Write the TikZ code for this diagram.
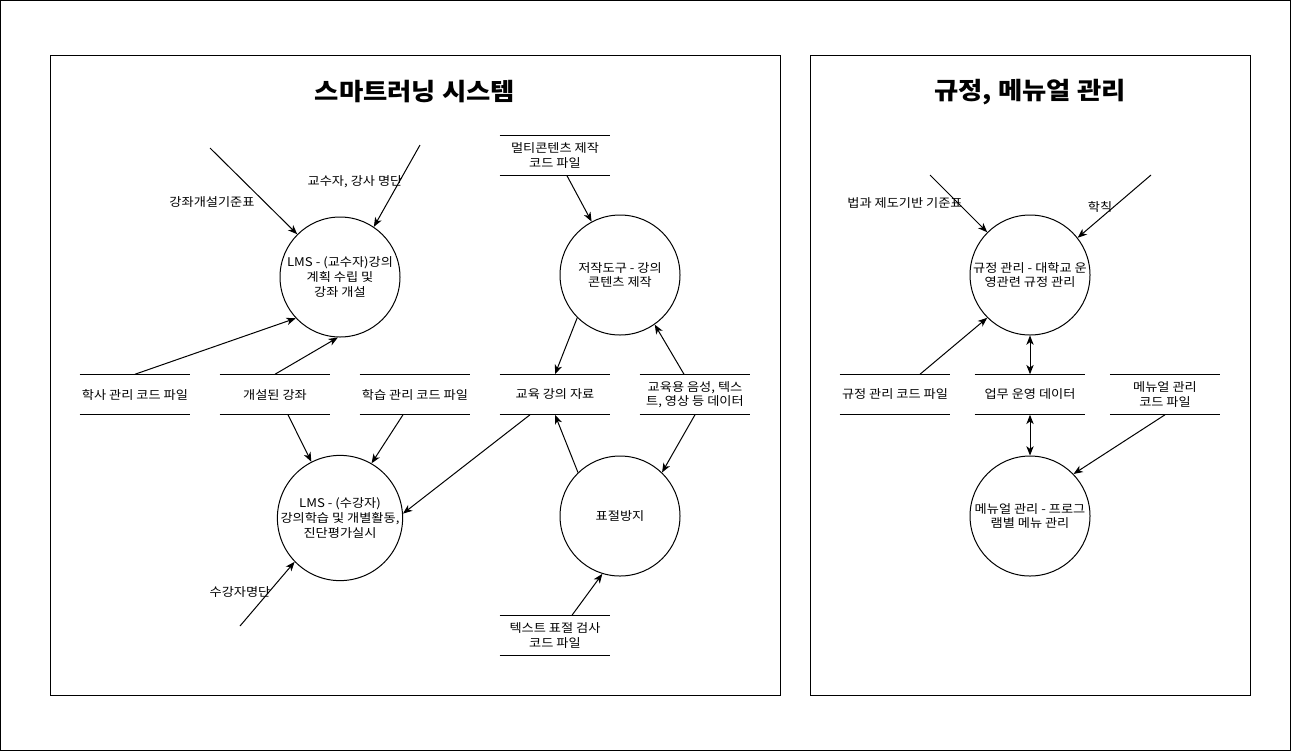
\documentclass[tikz,border=0pt]{standalone}
\usepackage{fontspec}
\setmainfont{Noto Sans CJK KR}[FakeStretch=1.1]
\usetikzlibrary{arrows.meta}
\begin{document}
\begin{tikzpicture}[x=0.75pt,y=-0.75pt,
  every node/.style={font=\fontsize{9}{11}\selectfont, align=center, inner sep=0pt},
  proc/.style={draw, circle, minimum size=90pt, line width=0.75pt},
  store/.style={minimum width=82.5pt, minimum height=30pt},
  lbl/.style={fill=none},
  ttl/.style={font=\fontsize{18}{20}\selectfont\bfseries},
  flow/.style={line width=0.75pt, -{Stealth[length=7pt,width=5.5pt,inset=2pt]}},
  bflow/.style={line width=0.75pt, {Stealth[length=7pt,width=5.5pt,inset=2pt]}-{Stealth[length=7pt,width=5.5pt,inset=2pt]}},
  frame/.style={draw, line width=0.75pt}
]
\useasboundingbox (0,0) rectangle (1291,751);
\draw[frame] (0.5,0.5) rectangle (1290.5,750.5);
\draw[frame] (50.5,55.5) rectangle (780.5,695.5);
\draw[frame] (810.5,55.5) rectangle (1250.5,695.5);

\node[ttl] (t1) at (415,92) {스마트러닝 시스템};
\node[ttl] (t2) at (1030,92) {규정, 메뉴얼 관리};

% processes
\node[proc] (c1) at (340,277) {LMS - (교수자)강의\\계획 수립 및\\강좌 개설};
\node[proc] (c2) at (620,275) {저작도구 - 강의\\콘텐츠 제작};
\node[proc] (c3) at (340,518) {LMS - (수강자)\\강의학습 및 개별활동,\\진단평가실시};
\node[proc] (c4) at (620,516) {표절방지};
\node[proc] (c5) at (1030,275) {규정 관리 - 대학교 운\\영관련 규정 관리};
\node[proc] (c6) at (1030,516) {메뉴얼 관리 - 프로그\\램별 메뉴 관리};

% stores
\node[store] (s1) at (135,394.5) {학사 관리 코드 파일};
\node[store] (s2) at (275,394.5) {개설된 강좌};
\node[store] (s3) at (415,394.5) {학습 관리 코드 파일};
\node[store] (s4) at (555,394.5) {교육 강의 자료};
\node[store] (s5) at (695,394.5) {교육용 음성, 텍스\\트, 영상 등 데이터};
\node[store] (s6) at (555,155.5) {멀티콘텐츠 제작\\코드 파일};
\node[store] (s7) at (555,635.5) {텍스트 표절 검사\\코드 파일};
\node[store] (s8) at (895,394.5) {규정 관리 코드 파일};
\node[store] (s9) at (1030,394.5) {업무 운영 데이터};
\node[store] (s10) at (1165,394.5) {메뉴얼 관리\\코드 파일};
\foreach \n in {s1,s2,s3,s4,s5,s6,s7,s8,s9,s10}
  \draw[line width=0.75pt] (\n.north west) -- (\n.north east) (\n.south west) -- (\n.south east);

% free ends
\coordinate (f1) at (210,148);
\coordinate (f2) at (420,145);
\coordinate (f11) at (240,626);
\coordinate (f15) at (930,175);
\coordinate (f16) at (1151,175);

% flows
\draw[flow] (f1) -- (c1.135);
\draw[flow] (f2) -- (c1.56);
\draw[flow] (s1.north) -- (c1.223);
\draw[flow] (s2.north) -- (c1.268);
\draw[flow] ([xshift=9.75pt]s2.south) -- (c3.117);
\draw[flow] ([xshift=-9pt]s3.south) -- (c3.60);
\draw[flow] ([xshift=-18.75pt]s4.south) -- (c3.4);
\draw[flow] (f11) -- (c3.224);
\draw[flow] ([xshift=9pt]s6.south) -- (c2.118);
\draw[flow] (c2.225) -- (s4.north);
\draw[flow] ([xshift=-8.25pt]s5.north) -- (c2.305);
\draw[flow] (c4.134) -- (s4.south);
\draw[flow] (s5.south) -- (c4.46);
\draw[flow] ([xshift=12.75pt]s7.north) -- (c4.253);
\draw[flow] (f15) -- (c5.135);
\draw[flow] (f16) -- (c5.38);
\draw[flow] ([xshift=18.75pt]s8.north) -- (c5.225);
\draw[bflow] (c5.south) -- (s9.north);
\draw[bflow] (s9.south) -- (c6.north);
\draw[flow] (s10.south) -- (c6.44);

% labels
\node[lbl] (l1) at (212,202) {강좌개설기준표};
\node[lbl] (l2) at (355,182) {교수자, 강사 명단};
\node[lbl] (l11) at (240,592) {수강자명단};
\node[lbl] (l15) at (905,203) {법과 제도기반 기준표};
\node[lbl] (l16) at (1100,207) {학칙};
\end{tikzpicture}
\end{document}
